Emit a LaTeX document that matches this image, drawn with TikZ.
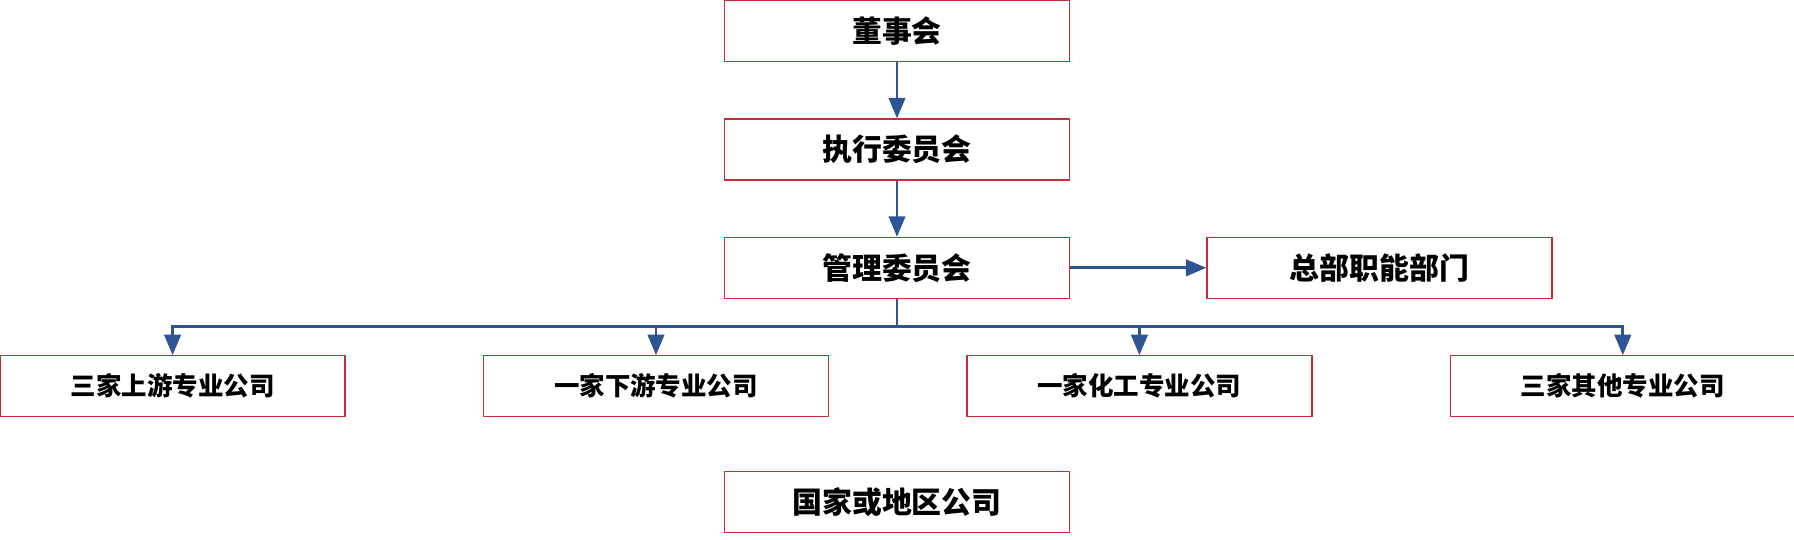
\documentclass[tikz,border=0pt]{standalone}
\usepackage{fontspec}
\newfontfamily\cjk{Noto Sans CJK SC}
\usetikzlibrary{arrows,positioning}
\definecolor{linkblue}{RGB}{47,84,148}
\definecolor{boxred}{RGB}{200,45,55}

\begin{document}
\begin{tikzpicture}[->,>=triangle 45,line width=1.7pt,draw=linkblue,
                    node distance=1.12cm and 2.74cm]
	\tikzstyle{unit}=[draw=boxred,line width=0.8pt,fill=white,text=black,
	                  minimum width=6.9cm,minimum height=1.22cm,inner sep=0pt,
	                  font=\cjk\bfseries\fontsize{17}{20}\selectfont]
	\tikzstyle{firm}=[unit,font=\cjk\bfseries\fontsize{14.5}{17}\selectfont]
	\useasboundingbox (-17.94,0.62) rectangle (17.94,-10.18);

	\node[unit]	(board)					{董事会};
	\node[unit]	(exec)	[below=of board]		{执行委员会};
	\node[unit]	(mgmt)	[below=of exec]		{管理委员会};
	\node[unit]	(hq)	[right=2.72cm of mgmt]	{总部职能部门};

	\node[firm]	(down)	[below=of mgmt,xshift=-4.82cm]	{一家下游专业公司};
	\node[firm]	(up)	[left=of down]		{三家上游专业公司};
	\node[firm]	(chem)	[right=of down]		{一家化工专业公司};
	\node[firm]	(other)	[right=of chem]		{三家其他专业公司};

	\node[unit]	(region)	[below=3.44cm of mgmt]	{国家或地区公司};

	\draw[linkblue] (board) -- (exec);
	\draw[linkblue] (exec) -- (mgmt);
	\draw[linkblue] (mgmt) -- (hq);
	\draw[-,linkblue] (mgmt.south) -- ++(0,-0.54) coordinate (bus);
	\foreach \n in {up,down,chem,other}
		\draw[linkblue] (bus) -| (\n);
\end{tikzpicture}
\end{document}
